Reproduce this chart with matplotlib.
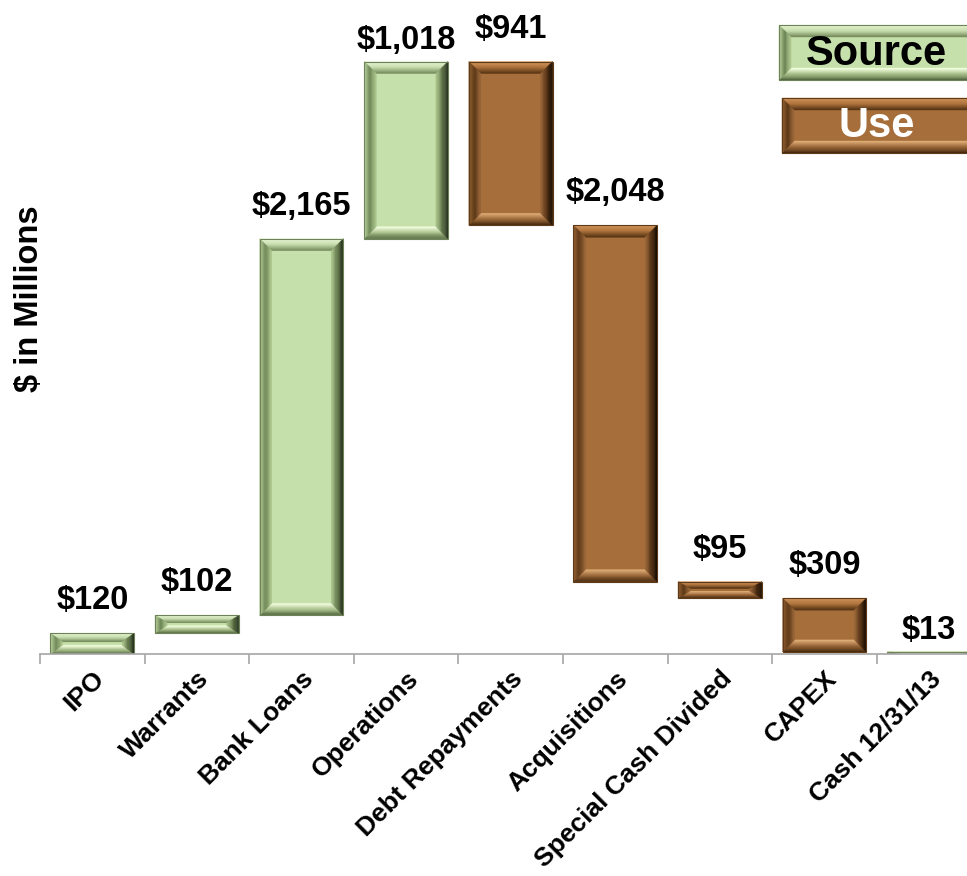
import numpy as np
import matplotlib
matplotlib.use('Agg')
import matplotlib.pyplot as plt
import matplotlib.transforms as mtransforms
from matplotlib.patches import Polygon, Rectangle

plt.rcParams['font.family'] = ['Liberation Sans', 'DejaVu Sans']
plt.rcParams['font.weight'] = 'bold'

# %% data
categories = ['IPO', 'Warrants', 'Bank Loans', 'Operations', 'Debt Repayments',
              'Acquisitions', 'Special Cash Divided', 'CAPEX', 'Cash 12/31/13']
values = [120, 102, 2165, 1018, 941, 2048, 95, 309, 13]
kinds = ['source', 'source', 'source', 'source', 'use', 'use', 'use', 'use', 'total']
legend_names = ['Source', 'Use']

# %% colours for the bevelled boxes (outer -> inner stops for each side)
def c(r, g, b):
    return np.array([r, g, b]) / 255.0

green = {'face': c(197, 224, 170), 'edge': c(110, 130, 90),
         'top': [c(232, 246, 212), c(200, 222, 175), c(120, 142, 95)],
         'left': [c(185, 208, 155), c(105, 130, 82), c(170, 195, 140)],
         'right': [c(35, 45, 28), c(95, 115, 72), c(165, 190, 135)],
         'bottom': [c(85, 105, 65), c(165, 188, 135), c(240, 252, 220)]}
brown = {'face': c(166, 110, 58), 'edge': c(95, 58, 25),
         'top': [c(212, 152, 95), c(175, 115, 60), c(90, 55, 22)],
         'left': [c(145, 95, 48), c(90, 55, 22), c(150, 100, 55)],
         'right': [c(22, 12, 3), c(80, 48, 20), c(150, 100, 55)],
         'bottom': [c(70, 42, 15), c(150, 100, 55), c(220, 170, 115)]}


def stop_color(stops, t):
    xs = np.linspace(0, 1, len(stops))
    arr = np.array(stops)
    return [np.interp(t, xs, arr[:, i]) for i in range(3)]


def bevel_box(ax, x0, y0, w, h, pal, sx, sy, bpx=12, n=10, z=2):
    x1, y1 = x0 + w, y0 + h
    bx = min(bpx * sx, 0.45 * w)
    by = min(bpx * sy, 0.42 * h)
    ax.add_patch(Rectangle((x0, y0), w, h, fc=pal['face'], ec='none', zorder=z))
    for k in range(n):
        f0, f1 = k / n, (k + 1) / n
        t = k / (n - 1)
        ox, oy, ix, iy = f0 * bx, f0 * by, f1 * bx, f1 * by
        sides = {
            'top': [(x0 + ox, y1 - oy), (x1 - ox, y1 - oy), (x1 - ix, y1 - iy), (x0 + ix, y1 - iy)],
            'bottom': [(x0 + ox, y0 + oy), (x1 - ox, y0 + oy), (x1 - ix, y0 + iy), (x0 + ix, y0 + iy)],
            'left': [(x0 + ox, y0 + oy), (x0 + ox, y1 - oy), (x0 + ix, y1 - iy), (x0 + ix, y0 + iy)],
            'right': [(x1 - ox, y0 + oy), (x1 - ox, y1 - oy), (x1 - ix, y1 - iy), (x1 - ix, y0 + iy)],
        }
        for side, pts in sides.items():
            col = stop_color(pal[side], t)
            ax.add_patch(Polygon(pts, closed=True, fc=col, ec=col, lw=0.3, zorder=z))
    ax.add_patch(Rectangle((x0, y0), w, h, fill=False, ec=pal['edge'], lw=0.8, zorder=z + 0.5))


# %% figure
W, H = 967, 876
fig = plt.figure(figsize=(W / 100, H / 100), dpi=100)
px_per_cat = 104.6
px_per_unit = 0.174
ax_h = 644
ax = fig.add_axes([40 / W, (H - 654) / H, 9 * px_per_cat / W, ax_h / H])
ax.set_xlim(-0.5, 8.5)
ax.set_ylim(0, ax_h / px_per_unit)
sx = 1 / px_per_cat
sy = 1 / px_per_unit

bar_w = 0.80
label_pad = {3: 13, 8: 13}  # px between bar top and label baseline
running = 0
for i, (v, k) in enumerate(zip(values, kinds)):
    if k == 'source':
        lo, hi = running, running + v
        running = hi
        pal = green
    elif k == 'use':
        lo, hi = running - v, running
        running = lo
        pal = brown
    else:
        lo, hi = 0, v
        pal = green
    bevel_box(ax, i - bar_w / 2, lo, bar_w, hi - lo, pal, sx, sy)
    pad = label_pad.get(i, 24)
    ax.text(i, hi + pad * sy, f"${v:,}", ha='center', va='baseline',
            fontsize=23.5, fontweight='bold', color='black')

for s in ['top', 'right', 'left']:
    ax.spines[s].set_visible(False)
ax.spines['bottom'].set_color('#a6a6a6')
ax.spines['bottom'].set_linewidth(1.2)
ax.set_yticks([])
ax.set_xticks(range(len(categories)))
ax.set_xticklabels(categories, rotation=45, ha='right', rotation_mode='anchor',
                   fontsize=19, fontweight='bold')
shift = mtransforms.ScaledTranslation(-6 / 100, 0, fig.dpi_scale_trans)
for lab in ax.get_xticklabels():
    lab.set_transform(lab.get_transform() + shift)
ax.set_xticks(np.arange(-0.5, len(categories)), minor=True)
ax.tick_params(axis='x', which='major', length=0, pad=9)
ax.tick_params(axis='x', which='minor', length=7, color='#a6a6a6', width=1.2)
ax.patch.set_alpha(0)

fig.text(30 / W, 1 - 299 / H, '$ in Millions', rotation=90, ha='center', va='center',
         fontsize=23.5, fontweight='bold')

# %% legend boxes, drawn in pixel coordinates
ov = fig.add_axes([0, 0, 1, 1])
ov.set_xlim(0, W)
ov.set_ylim(0, H)
ov.axis('off')
bevel_box(ov, 779, H - 80, 220, 55, green, 1, 1)
bevel_box(ov, 782, H - 153, 220, 55, brown, 1, 1)
ov.text(876, H - 54, legend_names[0], ha='center', va='center', fontsize=30,
        fontweight='bold', color='black', zorder=5)
ov.text(877, H - 126, legend_names[1], ha='center', va='center', fontsize=30,
        fontweight='bold', color='white', zorder=5)

fig.savefig('out.png', dpi=100)
